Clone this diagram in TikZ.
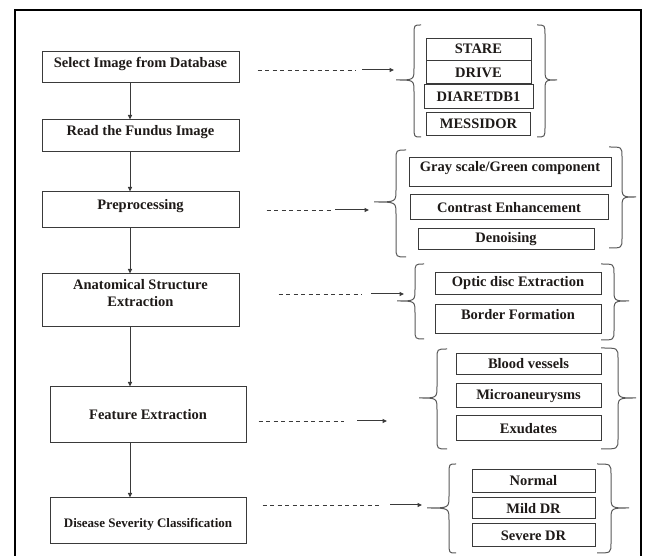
\documentclass[tikz,border=0pt]{standalone}
\usepackage{fontspec}
\setmainfont{Liberation Serif}
\usepackage{tikz}
\usetikzlibrary{arrows.meta,positioning}
\definecolor{ink}{HTML}{3A3A3A}
\definecolor{txt}{HTML}{1E1A18}
\tikzset{stage/.style={draw=ink,fill=white,line width=1pt,minimum width=197pt,align=center,text=txt,font=\bfseries\fontsize{14.5}{17}\selectfont,inner sep=2pt},item/.style={draw=ink,fill=white,line width=0.9pt,inner sep=0pt,align=center,text=txt,font=\bfseries\fontsize{14.5}{17}\selectfont},arr/.style={-{Triangle[length=4.5pt,width=4pt]},line width=1pt,draw=ink},dashln/.style={line width=0.8pt,draw=ink,dash pattern=on 4pt off 3.5pt},curl/.style={line width=1pt,draw=ink!85}}
% brace: end x, stem x, tip x, top y, bottom y, middle y
\newcommand{\curl}[6]{\draw[curl] (#1,#4) .. controls (#2,#4) .. (#2,{#4-10}) -- (#2,{#6+12}) .. controls (#2,#6) .. (#3,#6) .. controls (#2,#6) .. (#2,{#6-12}) -- (#2,{#5+10}) .. controls (#2,#5) .. (#1,#5);}
\begin{document}
\begin{tikzpicture}[x=1pt,y=1pt]
\useasboundingbox (0,0) rectangle (648,556);
\draw[line width=2.4pt] (15,-5) rectangle (641,546);
% processing chain
\node[stage,minimum height=31pt,text depth=11pt] (sel) at (140.5,488.5) {Select Image from Database};
\node[stage,minimum height=32pt,text depth=12pt,below=36pt of sel] (read) {Read the Fundus Image};
\node[stage,minimum height=36pt,text depth=12pt,below=39pt of read] (pre) {Preprocessing};
\node[stage,minimum height=53pt,text depth=15pt,below=45pt of pre] (ana) {Anatomical Structure\\Extraction};
\node[stage,minimum width=196pt,minimum height=56pt,below=59pt of ana,xshift=7.5pt] (fea) {Feature Extraction};
\node[stage,minimum width=196pt,minimum height=46pt,text height=16pt,below=54pt of fea,font=\bfseries\fontsize{13}{15}\selectfont] (dis) {Disease Severity Classification};
\coordinate (ax) at (130,0);
\draw[arr] (sel.south -| ax)--(read.north -| ax);\draw[arr] (read.south -| ax)--(pre.north -| ax);
\draw[arr] (pre.south -| ax)--(ana.north -| ax);\draw[arr] (ana.south -| ax)--(fea.north -| ax);
\draw[arr] (fea.south -| ax)--(dis.north -| ax);
% databases
\node[item,minimum width=105pt,minimum height=22pt] (stare) at (478.5,507) {STARE};
\node[item,minimum width=105pt,minimum height=23pt,below=0pt of stare] (drive) {DRIVE};
\node[item,minimum width=109pt,minimum height=24pt,below=0pt of drive] (diaret) {DIARETDB1};
\node[item,minimum width=104pt,minimum height=23pt,below=3pt of diaret] (messi) {MESSIDOR};
% preprocessing steps
\node[item,minimum width=202pt,minimum height=29pt,text depth=10pt] (gray) at (510,384.5) {Gray scale/Green component};
\node[item,minimum width=198pt,minimum height=25pt,below=8pt of gray,xshift=-1pt] (contr) {Contrast Enhancement};
\node[item,minimum width=176pt,minimum height=21pt,below=8pt of contr,xshift=-3pt] (denoi) {Denoising};
% anatomical structures
\node[item,minimum width=166pt,minimum height=22pt] (optic) at (518,273) {Optic disc Extraction};
\node[item,minimum width=166pt,minimum height=29pt,text depth=9pt,below=10pt of optic] (border) {Border Formation};
% features
\node[item,minimum width=145pt,minimum height=21pt] (blood) at (528.5,192.5) {Blood vessels};
\node[item,minimum width=145pt,minimum height=24pt,below=9pt of blood] (micro) {Microaneurysms};
\node[item,minimum width=145pt,minimum height=25pt,below=7pt of micro] (exud) {Exudates};
% grades
\node[item,minimum width=123pt,minimum height=23pt] (normal) at (533.5,75.5) {Normal};
\node[item,minimum width=123pt,minimum height=21pt,below=5pt of normal] (mild) {Mild DR};
\node[item,minimum width=123pt,minimum height=23pt,below=4pt of mild] (severe) {Severe DR};
% braces
\curl{421}{414}{396}{531}{419}{476}\curl{537}{545}{557}{531}{419}{476}
\curl{406}{396}{374}{406}{299}{354}\curl{609}{622}{636}{409}{308}{359}
\curl{424}{415}{397}{292}{217}{255}\curl{601}{614}{629}{292}{216}{255}
\curl{447}{437}{419}{207}{107}{158}\curl{601}{618}{636}{208}{107}{158}
\curl{456}{449}{427}{92}{3}{48}\curl{597}{611}{629}{92}{3}{48}
% links to the groups
\coordinate (e1) at (394,486);\coordinate (e2) at (369,346);\coordinate (e3) at (404,262);
\coordinate (e4) at (387,135);\coordinate (e5) at (422,51);
\draw[dashln,shorten <=18pt] (sel.east |- e1)--([xshift=-38pt]e1);\draw[arr] ([xshift=-32pt]e1)--(e1);
\draw[dashln,shorten <=27pt] (pre.east |- e2)--([xshift=-36pt]e2);\draw[arr] ([xshift=-34pt]e2)--(e2);
\draw[dashln,shorten <=39pt] (ana.east |- e3)--([xshift=-42pt]e3);\draw[arr] ([xshift=-33pt]e3)--(e3);
\draw[dashln,shorten <=12pt] (fea.east |- e4)--([xshift=-43pt]e4);\draw[arr] ([xshift=-30pt]e4)--(e4);
\draw[dashln,shorten <=16pt] (dis.east |- e5)--([xshift=-41pt]e5);\draw[arr] ([xshift=-32pt]e5)--(e5);
\end{tikzpicture}
\end{document}
